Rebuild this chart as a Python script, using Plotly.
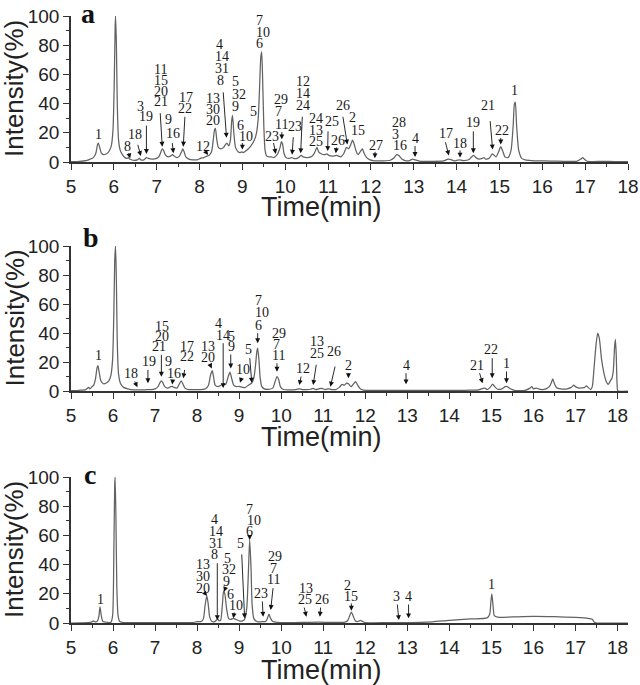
import plotly.graph_objects as go

# ---------------- data ----------------
a_time = [5.0, 5.2, 5.35, 5.45, 5.52, 5.58, 5.62, 5.64, 5.67, 5.71, 5.76, 5.82, 5.88, 5.94, 5.98, 6.01, 6.03, 6.04,
          6.06, 6.08, 6.11, 6.15, 6.2, 6.26, 6.31, 6.34, 6.37, 6.45, 6.55, 6.6, 6.63, 6.7, 6.76, 6.8, 6.9, 7.0,
          7.06, 7.1, 7.13, 7.16, 7.2, 7.26, 7.32, 7.37, 7.41, 7.47, 7.53, 7.58, 7.61, 7.64, 7.68, 7.75, 7.85, 7.95,
          8.02, 8.1, 8.17, 8.22, 8.28, 8.32, 8.35, 8.37, 8.4, 8.44, 8.5, 8.56, 8.61, 8.64, 8.68, 8.72, 8.75, 8.77,
          8.8, 8.84, 8.9, 8.95, 8.98, 9.02, 9.1, 9.2, 9.28, 9.33, 9.37, 9.4, 9.43, 9.45, 9.47, 9.5, 9.53, 9.57,
          9.62, 9.68, 9.73, 9.78, 9.83, 9.88, 9.91, 9.94, 9.97, 10.02, 10.1, 10.15, 10.2, 10.28, 10.33, 10.37,
          10.42, 10.5, 10.6, 10.66, 10.71, 10.74, 10.78, 10.85, 10.92, 10.97, 11.02, 11.1, 11.2, 11.3, 11.37,
          11.43, 11.48, 11.53, 11.57, 11.61, 11.66, 11.7, 11.75, 11.8, 11.84, 11.9, 11.98, 12.05, 12.15, 12.3,
          12.45, 12.53, 12.6, 12.65, 12.72, 12.8, 12.9, 12.97, 13.03, 13.15, 13.4, 13.7, 13.8, 13.85, 13.95,
          14.05, 14.15, 14.28, 14.35, 14.4, 14.45, 14.52, 14.6, 14.64, 14.68, 14.76, 14.83, 14.86, 14.92, 14.98,
          15.03, 15.07, 15.13, 15.2, 15.27, 15.32, 15.35, 15.37, 15.4, 15.45, 15.52, 15.6, 15.75, 15.9, 16.2,
          16.5, 16.8, 16.9, 16.94, 16.98, 17.05, 17.4, 17.7, 18.0]
a_int = [0.3, 0.5, 1, 2, 3, 6, 12, 13, 10, 6, 5, 5.5, 7, 11, 22, 55, 92, 100,
         80, 40, 15, 8, 5, 3, 2.5, 3, 2, 1.2, 1.5, 2.5, 1.5, 1.5, 3, 2.5, 2, 2.5,
         4, 7, 9, 8, 5, 3.5, 4, 5, 4, 3, 4, 7, 9, 7, 3.5, 2, 1.5, 1.5,
         2.5, 3, 4, 4.5, 7, 15, 22, 23, 16, 10, 9, 10, 12, 13, 11, 15, 28, 32,
         20, 10, 7, 6.5, 7, 6.5, 8, 11, 15, 20, 30, 50, 72, 75.5, 60, 25, 8, 4,
         3.5, 3.5, 3, 4, 6, 10, 14, 12, 6, 3, 2.5, 3, 2.5, 2.5, 3.5, 4.5,
         3.5, 3, 3.5, 5, 8, 10, 7, 5.5, 5, 5.5, 4.5, 4, 4.5, 3.5, 6,
         10, 9, 12, 15, 12, 7, 5, 7, 9, 6, 3, 1.5, 1, 0.8, 0.8,
         1.2, 2.5, 5, 4.5, 2, 1, 1, 2, 1.5, 0.5, 0.5, 0.8, 2, 1.8, 0.8,
         1.5, 1, 1.5, 3.5, 4.5, 3, 2, 2.5, 3, 2, 2.5, 5.5, 5, 3.5, 7,
         10.5, 8, 3.5, 3, 8, 25, 40, 41, 25, 8, 2.5, 1.5, 1, 0.8, 0.6,
         0.5, 0.5, 2, 3, 2, 0.5, 0.4, 0.3, 0.2]

b_time = [5.0, 5.2, 5.35, 5.42, 5.45, 5.5, 5.54, 5.58, 5.62, 5.64, 5.67, 5.71, 5.77, 5.84, 5.9, 5.95, 5.99, 6.02,
          6.04, 6.06, 6.08, 6.1, 6.13, 6.18, 6.25, 6.35, 6.5, 6.6, 6.7, 6.8, 6.9, 7.0, 7.07, 7.12, 7.15, 7.18,
          7.23, 7.3, 7.37, 7.41, 7.45, 7.52, 7.57, 7.62, 7.66, 7.71, 7.8, 7.95, 8.1, 8.2, 8.27, 8.32, 8.36, 8.39,
          8.43, 8.5, 8.57, 8.63, 8.68, 8.73, 8.78, 8.82, 8.87, 8.93, 9.0, 9.08, 9.15, 9.22, 9.3, 9.35, 9.39, 9.42,
          9.44, 9.47, 9.5, 9.54, 9.6, 9.7, 9.8, 9.85, 9.9, 9.94, 9.98, 10.05, 10.2, 10.35, 10.43, 10.5, 10.6,
          10.7, 10.76, 10.82, 10.9, 10.97, 11.05, 11.12, 11.2, 11.3, 11.38, 11.45, 11.5, 11.56, 11.6, 11.66,
          11.71, 11.77, 11.82, 11.88, 11.95, 12.1, 12.5, 13.0, 13.5, 14.0, 14.4, 14.7, 14.8, 14.85, 14.9, 14.97,
          15.03, 15.08, 15.15, 15.25, 15.33, 15.38, 15.45, 15.55, 15.8, 15.92, 15.96, 16.0, 16.07, 16.12, 16.2,
          16.3, 16.38, 16.43, 16.46, 16.5, 16.56, 16.65, 16.8, 16.9, 16.96, 17.0, 17.08, 17.15, 17.22, 17.26,
          17.3, 17.36, 17.4, 17.44, 17.49, 17.53, 17.57, 17.62, 17.68, 17.74, 17.78, 17.83, 17.87, 17.9, 17.93,
          17.95, 17.97, 17.99, 18.01, 18.25]
b_int = [0.3, 0.5, 1, 2.5, 1.5, 3, 4, 8, 16, 17.5, 13, 7, 5, 5.5, 7, 11, 22, 55,
         90, 100, 75, 35, 12, 5, 2.5, 1.5, 0.8, 0.8, 0.7, 1, 1, 1.5, 3, 6, 7, 6,
         3, 2, 3, 3.2, 2.5, 2, 4.5, 7, 5, 2, 1, 1, 1, 1.5, 4, 11, 14, 10,
         4, 3, 4, 5, 4.5, 9, 13, 9, 4, 3, 3.2, 2.5, 2.5, 4, 5.5, 9, 18, 27,
         29.5, 22, 9, 3, 1.5, 1.2, 2, 6, 10, 8, 3, 1, 0.8, 1, 1.5, 1, 1,
         1.2, 1.8, 1, 1.5, 1.8, 1, 1.5, 1, 1, 2.5, 4.5, 4, 5.5, 5, 3,
         4.5, 6.5, 4, 1.5, 0.6, 0.5, 0.4, 0.4, 0.4, 0.4, 0.5, 0.8, 1.8, 2, 1, 2.5,
         4.8, 3, 1.2, 1.5, 3, 3, 1.5, 0.5, 0.5, 2, 3, 1.5, 2, 1.5, 1,
         1.5, 3, 6, 8.3, 5, 2, 1.5, 1.5, 2.5, 4, 3, 2, 2.2, 2.5, 3.5,
         2.5, 1, 3, 15, 32, 40, 36, 22, 12, 6, 4.5, 7, 9, 14, 30,
         35.6, 25, 5, 0, 0]

c_time = [5.0, 5.4, 5.5, 5.53, 5.56, 5.62, 5.66, 5.69, 5.72, 5.76, 5.85, 5.95, 5.99, 6.02, 6.04, 6.05, 6.07, 6.09,
          6.12, 6.16, 6.25, 6.5, 7.0, 7.5, 7.9, 8.0, 8.1, 8.15, 8.19, 8.23, 8.26, 8.3, 8.35, 8.42, 8.46, 8.49,
          8.52, 8.56, 8.6, 8.63, 8.66, 8.7, 8.75, 8.8, 8.86, 8.92, 9.0, 9.08, 9.13, 9.18, 9.22, 9.25, 9.28, 9.31,
          9.35, 9.42, 9.5, 9.57, 9.63, 9.67, 9.71, 9.75, 9.8, 9.9, 10.2, 10.6, 10.9, 11.2, 11.5, 11.58, 11.63,
          11.67, 11.71, 11.76, 11.82, 11.88, 11.94, 12.0, 12.5, 13.0, 13.3, 13.6, 14.0, 14.5, 14.9, 14.96, 14.99,
          15.01, 15.04, 15.07, 15.15, 15.5, 16.0, 16.5, 17.0, 17.3, 17.4, 17.45, 17.5, 18.25]
c_int = [0, 0.2, 0.8, 1.5, 1, 1, 4, 11, 5, 1, 0.5, 0.5, 5, 50, 95, 100, 70, 25,
         5, 1, 0.3, 0.2, 0.2, 0.2, 0.3, 1, 1, 3, 12, 18.5, 14, 4, 1, 1, 2, 3,
         1.5, 2, 12, 22, 20, 10, 3, 2.5, 3.2, 2.5, 1.5, 1.5, 2.5, 10, 35, 57, 40, 12,
         3, 1, 0.7, 1, 1, 3, 6, 3, 1, 0.5, 0.3, 0.5, 0.6, 0.4, 0.5, 1.5, 5,
         7.5, 5, 1.5, 1, 1.8, 1, 0.3, 0.2, 0.3, 0.4, 0.8, 1.8, 2.8, 3.5, 6, 15,
         20, 12, 5, 4, 4.2, 4.5, 4.3, 3.8, 3.2, 2.5, 0.5, 0, 0]

x_ticks = list(range(5, 19))
y_ticks = [0, 20, 40, 60, 80, 100]
panel_names = ["a", "b", "c"]
x_title = "Time(min)"
y_title = "Intensity(%)"

# peak labels: (lines top->bottom, x of each line, y of bottom line, line step px)
a_labels = [
    (["1"], 5.65, 18.5, 0), (["2"], 6.07, 104, 0), (["8"], 6.32, 10.5, 0), (["18"], 6.49, 18.5, 0),
    (["3", "19"], [6.63, 6.75], 31, 10.7), (["11", "15", "20", "21"], 7.10, 41.3, 10.6),
    (["9", "16"], [7.27, 7.37], 19.7, 13.3), (["17", "22"], [7.68, 7.66], 36.8, 10.5),
    (["12"], 8.09, 10.5, 0), (["13", "30", "20"], 8.31, 28.1, 11.3),
    (["4", "14", "31", "8"], [8.47, 8.52, 8.52, 8.49], 55.7, 11.9),
    (["5", "32", "9"], [8.83, 8.93, 8.83], 37.9, 12.5), (["6", "10"], [8.96, 9.08], 17.3, 11.7),
    (["5"], 9.25, 34.5, 0), (["7", "10", "6"], [9.41, 9.49, 9.41], 81.3, 11.3), (["23"], 9.68, 17.3, 0),
    (["29", "7", "11"], [9.9, 9.85, 9.91], 26, 12.4), (["23"], 10.23, 24, 0),
    (["12", "14", "24"], 10.42, 38.4, 12.2), (["24", "13", "25"], 10.72, 13.9, 11.7),
    (["25"], 11.08, 27.6, 0), (["26"], 11.24, 15, 0), (["26"], 11.35, 38.4, 0),
    (["2", "15"], [11.57, 11.69], 21.9, 12.7), (["27"], 12.13, 11.6, 0),
    (["28", "3", "16"], [12.65, 12.57, 12.68], 11.2, 11.5), (["4"], 13.03, 16.2, 0),
    (["17"], 13.75, 19.7, 0), (["18"], 14.09, 12.8, 0), (["19"], 14.39, 26.9, 0),
    (["21"], 14.74, 38.4, 0), (["22"], 15.05, 21.9, 0), (["1"], 15.36, 49.3, 0),
]
a_arrows = [
    (6.34, 7, 6.38, 2.5), (6.55, 12.8, 6.63, 4.1), (6.76, 26, 6.76, 5.5), (7.08, 34.5, 7.13, 10.5),
    (7.36, 14, 7.39, 6), (7.66, 32, 7.62, 10.5), (8.14, 7.2, 8.2, 4.8), (8.55, 48.8, 8.63, 16.6),
    (9.0, 14, 9.0, 8.5), (9.72, 14, 9.78, 5.5), (9.92, 21.5, 9.92, 15.5), (10.19, 18, 10.16, 5),
    (10.4, 32, 10.36, 6), (11.0, 22, 10.99, 7.5), (11.2, 11, 11.18, 6), (11.34, 32, 11.45, 12),
    (12.1, 8, 12.09, 2.5), (13.03, 12, 13.03, 3.5), (13.73, 14.5, 13.82, 4.5), (14.08, 9, 14.08, 3),
    (14.39, 22, 14.39, 6), (14.78, 29, 14.84, 8.5), (15.03, 17.5, 15.03, 12),
]

b_labels = [
    (["1"], 5.65, 24.8, 0), (["2"], 6.08, 106.4, 0), (["18"], 6.42, 12.2, 0), (["19"], 6.86, 20.2, 0),
    (["15", "20", "21"], [7.17, 7.17, 7.1], 30.6, 10.3), (["9", "16"], [7.32, 7.45], 12.2, 11.6),
    (["17", "22"], 7.75, 23.7, 10), (["13", "20"], 8.27, 23, 11), (["4", "14"], [8.51, 8.62], 38.6, 11.7),
    (["5", "9"], 8.82, 30.6, 10), (["10"], 9.08, 14.5, 0), (["5"], 9.22, 28.3, 0),
    (["7", "10", "6"], [9.46, 9.55, 9.46], 45.5, 12.5), (["29", "7", "11"], [9.95, 9.9, 9.94], 24.3, 11.2),
    (["12"], 10.51, 15.7, 0), (["13", "25"], 10.84, 26, 11.7), (["26"], 11.26, 27.1, 0),
    (["2"], 11.6, 17.9, 0), (["4"], 12.97, 17.9, 0), (["21"], 14.66, 17.9, 0), (["22"], 15.0, 28.8, 0),
    (["1"], 15.36, 19.1, 0),
]
b_arrows = [
    (6.5, 7.6, 6.58, 2.6), (6.83, 15.6, 6.83, 5.3), (7.15, 26, 7.15, 9.9), (7.42, 8, 7.41, 4.5),
    (7.71, 15.6, 7.67, 8.8), (8.29, 19.3, 8.35, 15.6), (8.62, 34, 8.62, 2), (8.8, 26.2, 8.8, 15.6),
    (9.07, 10.1, 9.02, 5.7), (9.25, 23.7, 9.3, 5.7), (9.44, 40.9, 9.44, 32.9), (9.9, 20.2, 9.9, 13.3),
    (10.48, 11, 10.43, 4.1), (10.84, 19.1, 10.76, 4.1), (11.29, 17.9, 11.17, 3), (11.6, 13.3, 11.6, 8.8),
    (12.97, 13.3, 12.97, 4.6), (14.71, 13.3, 14.79, 5.3), (15.02, 23.7, 15.02, 8.8),
    (15.36, 14.5, 15.36, 5.3),
]

c_labels = [
    (["1"], 5.71, 16.2, 0), (["2"], 6.07, 106, 0), (["13", "30", "20"], 8.14, 23.8, 11.7),
    (["4", "14", "31", "8"], [8.41, 8.45, 8.45, 8.42], 46.6, 11.9),
    (["5", "32", "9"], [8.72, 8.77, 8.7], 28.3, 11.7), (["6", "10"], [8.8, 8.92], 11.8, 11.7),
    (["5"], 9.03, 54.6, 0), (["7", "10", "6"], [9.25, 9.35, 9.25], 62.5, 11), (["23"], 9.53, 20.3, 0),
    (["29", "7", "11"], [9.85, 9.81, 9.82], 29.5, 11.6), (["13", "25"], [10.6, 10.56], 15.8, 11.7),
    (["26"], 10.96, 16.2, 0), (["2", "15"], [11.58, 11.67], 18, 11.7), (["3"], 12.74, 18, 0),
    (["4"], 13.02, 18, 0), (["1"], 15.0, 26.7, 0),
]
c_arrows = [
    (8.18, 20.5, 8.24, 18.5), (8.48, 42, 8.48, 2), (8.68, 24.7, 8.64, 21.4), (8.89, 8.2, 8.86, 3.2),
    (9.06, 48, 9.13, 3.2), (9.25, 59.6, 9.25, 56.8), (9.55, 15.8, 9.57, 4.3), (9.81, 24.9, 9.75, 8.9),
    (10.54, 11.6, 10.6, 4.3), (10.94, 11.6, 10.92, 4.3), (11.67, 14.4, 11.67, 8.4),
    (12.76, 13.7, 12.8, 2), (13.03, 13.7, 13.03, 3.2),
]

# ---------------- figure ----------------
W, H = 640, 685
ML, MR = 71, 12
PW = W - ML - MR
# (time, intensity, labels, arrows, x-range, (px of y=0, px of y=100), letter px, x-title centre py)
panels = [
    (a_time, a_int, a_labels, a_arrows, [5, 18], (162, 16), (88, 13), 207),
    (b_time, b_int, b_labels, b_arrows, [5, 18.25], (391, 246), (91, 237), 437),
    (c_time, c_int, c_labels, c_arrows, [5, 18.25], (623, 477), (90, 474), 670),
]

fig = go.Figure()
annotations = []
layout = dict(
    width=W, height=H, margin=dict(l=ML, r=MR, t=0, b=0, pad=0),
    paper_bgcolor="white", plot_bgcolor="white", showlegend=False,
)
LABEL_FONT = dict(family="Liberation Serif", size=14, color="#1a1a1a")
TITLE_FONT = dict(family="Liberation Sans", size=26, color="#222")
AX_COL = "#333333"


def px_x(p):
    return (p - ML) / PW


def px_y(p):
    return (H - p) / H


for i, (tt, ii, labs, arrs, xr, (y0px, y100px), (lx, ly), xt_py) in enumerate(panels):
    n = "" if i == 0 else str(i + 1)
    xref, yref = "x" + n, "y" + n
    fig.add_trace(go.Scatter(
        x=tt, y=ii, mode="lines", xaxis=xref, yaxis=yref,
        line=dict(color="#626262", width=1.25, shape="spline", smoothing=0.6),
        hoverinfo="skip",
    ))
    layout["xaxis" + n] = dict(
        domain=[0, 1], anchor=yref, range=xr, tickvals=x_ticks,
        showline=True, linecolor=AX_COL, linewidth=1.5, ticks="outside", ticklen=6, tickwidth=1.3,
        tickcolor=AX_COL, minor=dict(ticks="outside", ticklen=3, dtick=0.5, tickcolor=AX_COL, tickwidth=1),
        showgrid=False, zeroline=False, automargin=False,
        tickfont=dict(family="Liberation Sans", size=19, color="#222"),
    )
    layout["yaxis" + n] = dict(
        domain=[px_y(y0px), px_y(y100px)], anchor=xref, range=[0, 100], tickvals=y_ticks,
        showline=True, linecolor=AX_COL, linewidth=1.5, ticks="outside", ticklen=6, tickwidth=1.3,
        tickcolor=AX_COL, minor=dict(ticks="outside", ticklen=3, dtick=10, tickcolor=AX_COL, tickwidth=1),
        showgrid=False, zeroline=False, automargin=False,
        tickfont=dict(family="Liberation Sans", size=19, color="#222"),
    )
    # axis titles
    annotations.append(dict(
        text=x_title, xref="paper", yref="paper", x=px_x(321), y=px_y(xt_py), showarrow=False,
        font=dict(TITLE_FONT, size=27), xanchor="center", yanchor="middle",
    ))
    annotations.append(dict(
        text=y_title, xref="paper", yref="paper", x=px_x(14), y=px_y((y0px + y100px) / 2), showarrow=False,
        font=TITLE_FONT, xanchor="center", yanchor="middle", textangle=-90,
    ))
    # panel letter
    annotations.append(dict(
        text="<b>" + panel_names[i] + "</b>", xref="paper", yref="paper",
        x=px_x(lx), y=px_y(ly), showarrow=False,
        font=dict(family="Liberation Serif", size=28, color="#111"), xanchor="center", yanchor="middle",
    ))
    # peak labels
    for lines, xs, yb, step in labs:
        k = len(lines)
        if not isinstance(xs, list):
            xs = [xs] * k
        for j, (txt, xx) in enumerate(zip(lines, xs)):
            annotations.append(dict(
                text=txt, x=xx, y=yb, xref=xref, yref=yref, showarrow=False,
                yshift=(k - 1 - j) * step, font=LABEL_FONT, xanchor="center", yanchor="middle",
            ))
    # arrows
    for tx, ty, px_, py_ in arrs:
        annotations.append(dict(
            text="", x=px_, y=py_, ax=tx, ay=ty, xref=xref, yref=yref, axref=xref, ayref=yref,
            showarrow=True, arrowhead=2, arrowsize=1.1, arrowwidth=0.9, arrowcolor="#111", standoff=0,
        ))

layout["annotations"] = annotations
fig.update_layout(**layout)
fig.write_html("out.html", config={"displayModeBar": False},
               post_script="document.body.style.margin='0px';")
